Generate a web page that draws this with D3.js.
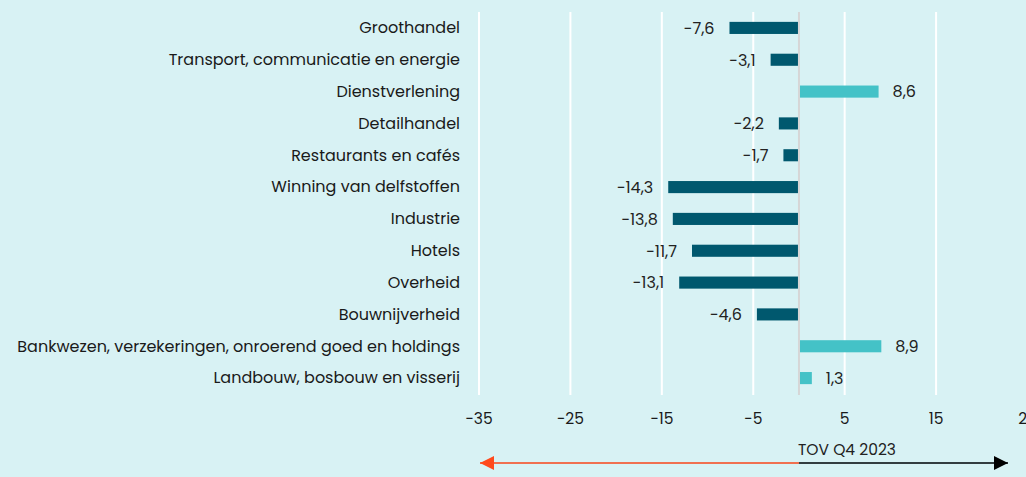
<!DOCTYPE html>
<html>
<head>
<meta charset="utf-8">
<script src="https://cdn.jsdelivr.net/npm/d3@7"></script>
<style>
  body { margin: 0; background: #d8f2f4; }
  svg { display: block; font-family: "Poppins", "Lato", sans-serif; }
</style>
</head>
<body>
<svg id="chart"></svg>
<script>
// Data
const categories = [
  "Groothandel",
  "Transport, communicatie en energie",
  "Dienstverlening",
  "Detailhandel",
  "Restaurants en cafés",
  "Winning van delfstoffen",
  "Industrie",
  "Hotels",
  "Overheid",
  "Bouwnijverheid",
  "Bankwezen, verzekeringen, onroerend goed en holdings",
  "Landbouw, bosbouw en visserij"
];
const values = [-7.6, -3.1, 8.6, -2.2, -1.7, -14.3, -13.8, -11.7, -13.1, -4.6, 8.9, 1.3];
const tickValues = [-35, -25, -15, -5, 5, 15, 25];
const refLabel = "TOV Q4 2023";

const width = 1026, height = 477;
const svg = d3.select("#chart").attr("width", width).attr("height", height);

svg.append("rect").attr("width", width).attr("height", height).attr("fill", "#d8f2f4");

const x = d3.scaleLinear().domain([-35, 25]).range([479, 1027.5]);
const y = d3.scaleBand().domain(categories).range([12, 394]).paddingInner(0.62).paddingOuter(0.31);

// Gridlines
svg.append("g").selectAll("line")
  .data(tickValues)
  .enter().append("line")
  .attr("x1", d => x(d)).attr("x2", d => x(d))
  .attr("y1", 12).attr("y2", 395)
  .attr("stroke", "#ffffff").attr("stroke-width", 2);

// Bars
const fmt = v => String(v).replace(".", ",").replace("-", "\u2212");
svg.append("g").selectAll("rect")
  .data(values)
  .enter().append("rect")
  .attr("x", d => Math.min(x(0), x(d)) + (d > 0 ? 1 : 0))
  .attr("y", (d, i) => y(categories[i]))
  .attr("width", d => Math.abs(x(d) - x(0)))
  .attr("height", y.bandwidth())
  .attr("fill", d => d < 0 ? "#00586e" : "#44c2c7");

// Zero line
svg.append("line")
  .attr("x1", x(0)).attr("x2", x(0))
  .attr("y1", 12).attr("y2", 395)
  .attr("stroke", "#d6d6d6").attr("stroke-width", 2);

// Value labels
svg.append("g").selectAll("text")
  .data(values)
  .enter().append("text")
  .attr("x", d => d < 0 ? x(d) - 15 : x(d) + 15)
  .attr("y", (d, i) => y(categories[i]) + y.bandwidth() / 2)
  .attr("dy", "0.36em")
  .attr("text-anchor", d => d < 0 ? "end" : "start")
  .attr("font-size", 16)
  .attr("fill", "#222")
  .text(fmt);

// Category labels
svg.append("g").selectAll("text")
  .data(categories)
  .enter().append("text")
  .attr("x", 460)
  .attr("y", d => y(d) + y.bandwidth() / 2)
  .attr("dy", "0.33em")
  .attr("text-anchor", "end")
  .attr("font-size", 16)
  .attr("fill", "#1a1a1a")
  .text(d => d);

// X axis tick labels
svg.append("g").selectAll("text")
  .data(tickValues)
  .enter().append("text")
  .attr("x", d => x(d))
  .attr("y", 424)
  .attr("text-anchor", "middle")
  .attr("font-size", 15.5)
  .attr("fill", "#1a1a1a")
  .text(d => String(d).replace("-", "\u2212"));

// Reference arrows
const defs = svg.append("defs");
defs.append("marker").attr("id", "arrRed")
  .attr("viewBox", "0 0 10 10").attr("refX", 10).attr("refY", 5)
  .attr("markerWidth", 14).attr("markerHeight", 14).attr("markerUnits", "userSpaceOnUse")
  .attr("orient", "auto")
  .append("path").attr("d", "M0,0 L10,5 L0,10 Z").attr("fill", "#ff4a1c");
defs.append("marker").attr("id", "arrBlack")
  .attr("viewBox", "0 0 10 10").attr("refX", 10).attr("refY", 5)
  .attr("markerWidth", 14).attr("markerHeight", 14).attr("markerUnits", "userSpaceOnUse")
  .attr("orient", "auto")
  .append("path").attr("d", "M0,0 L10,5 L0,10 Z").attr("fill", "#000");

svg.append("line")
  .attr("x1", x(0)).attr("x2", 480)
  .attr("y1", 463).attr("y2", 463)
  .attr("stroke", "#f07050").attr("stroke-width", 2)
  .attr("marker-end", "url(#arrRed)");

svg.append("line")
  .attr("x1", x(0)).attr("x2", 1008)
  .attr("y1", 463).attr("y2", 463)
  .attr("stroke", "#333d40").attr("stroke-width", 2)
  .attr("marker-end", "url(#arrBlack)");

svg.append("text")
  .attr("x", x(0) - 1)
  .attr("y", 455)
  .attr("font-size", 15.5)
  .attr("fill", "#222")
  .text(refLabel);
</script>
</body>
</html>
